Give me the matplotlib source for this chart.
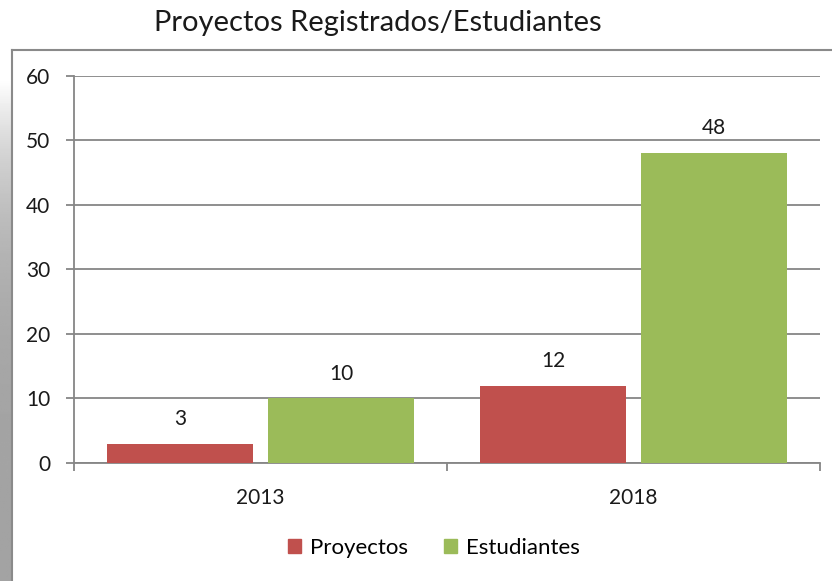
import matplotlib
matplotlib.use('Agg')
import matplotlib.pyplot as plt
import numpy as np
from matplotlib.patches import Patch
from matplotlib.lines import Line2D

years = ['2013', '2018']
proyectos = [3, 12]
estudiantes = [10, 48]
yticks = [0, 10, 20, 30, 40, 50, 60]

red = '#C0504D'
green = '#9BBB59'
grid_col = '#868686'
text_col = '#1a1a1a'

plt.rcParams['font.family'] = ['Lato', 'DejaVu Sans']

fig = plt.figure(figsize=(8.32, 5.81), dpi=100)
W, H = 832.0, 581.0

# left shadow of the chart frame (fades out towards the top)
shadow = fig.add_axes([0, 0, 12 / W, (581 - 80) / H])
t = np.linspace(0, 1, 256).reshape(-1, 1)
grad = 0.64 + 0.36 * t ** 4
shadow.imshow(grad, aspect='auto', cmap='gray', vmin=0, vmax=1,
              extent=[0, 1, 0, 1], origin='lower')
shadow.axis('off')

# chart frame
fig.add_artist(Line2D([12 / W, 12 / W], [0, 1 - 50 / H], transform=fig.transFigure,
                      color='#8a8a8a', lw=1.5))
fig.add_artist(Line2D([12 / W, 1], [1 - 50 / H, 1 - 50 / H], transform=fig.transFigure,
                      color='#8a8a8a', lw=1.5))

ax = fig.add_axes([74 / W, (581 - 463) / H, (820 - 74) / W, (463 - 75.5) / H])

x = np.arange(len(years))
w = 0.39
off = 0.216
b1 = ax.bar(x - off, proyectos, w, color=red, zorder=3)
b2 = ax.bar(x + off, estudiantes, w, color=green, zorder=3)

for bars, vals in [(b1, proyectos), (b2, estudiantes)]:
    for r, v in zip(bars, vals):
        ax.text(r.get_x() + r.get_width() / 2, v + 2.3, str(v), ha='center', va='bottom',
                fontsize=15, color=text_col)

ax.set_xlim(-0.5, 1.5)
ax.set_ylim(0, 60)
ax.set_yticks(yticks)
ax.set_yticklabels([str(t) for t in yticks], fontsize=15, color=text_col)
ax.yaxis.grid(True, color=grid_col, lw=1.3, zorder=0)
ax.set_axisbelow(True)

ax.set_xticks(x)
ax.set_xticklabels(years, fontsize=15, color=text_col)
ax.set_xticks([-0.5, 0.5, 1.5], minor=True)
ax.tick_params(axis='x', which='major', length=0, pad=18)
ax.tick_params(axis='x', which='minor', length=6, width=1.3, color=grid_col, direction='out')
ax.tick_params(axis='y', length=6, width=1.3, color=grid_col, pad=11)

for s in ['top', 'right']:
    ax.spines[s].set_visible(False)
for s in ['left', 'bottom']:
    ax.spines[s].set_color(grid_col)
    ax.spines[s].set_linewidth(1.3)

fig.text(378 / W, 1 - 23 / H, 'Proyectos Registrados/Estudiantes', ha='center', va='center',
         fontsize=21, color=text_col)

handles = [Patch(color=red, label='Proyectos'), Patch(color=green, label='Estudiantes')]
fig.legend(handles=handles, loc='center', bbox_to_anchor=(434 / W, 1 - 548 / H), ncol=2,
           frameon=False, fontsize=16, handlelength=0.6, handleheight=0.6,
           handletextpad=0.4, columnspacing=1.6)

fig.savefig('out.png', dpi=100)
